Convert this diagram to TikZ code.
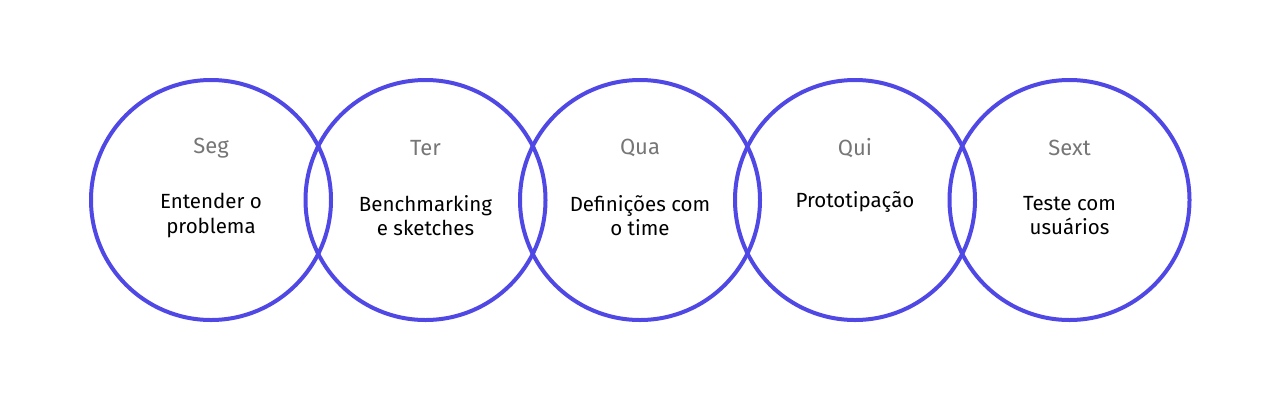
\documentclass[tikz,border=0pt]{standalone}
\usepackage{fontspec}
\setmainfont{Fira Sans}
\definecolor{ring}{HTML}{5048E5}
\definecolor{daygray}{HTML}{767676}
\begin{document}
\begin{tikzpicture}[x=1pt,y=-1pt,
  ring/.style={circle,draw=ring,line width=4pt,minimum size=240pt,inner sep=0pt},
  day/.style={text=daygray,font=\fontsize{22}{26}\selectfont,anchor=center},
  task/.style={text=black,font=\fontsize{20.5}{24.5}\selectfont,align=center,anchor=center}]
\useasboundingbox (0,0) rectangle (1280,400);
\foreach \i/\x/\d/\t in {1/211/Seg/{Entender o\\problema},
                         2/425.5/Ter/{Benchmarking\\e sketches},
                         3/640/Qua/{Definições com\\o time},
                         4/855/Qui/{Prototipação\\\strut},
                         5/1069.5/Sext/{Teste com\\usuários}}{
  \node[ring] (c\i) at (\x,200) {};
  \node[day] (d\i) at (\x,148) {\d};
  \node[task] (t\i) at (\x,215.5) {\t};
}
\end{tikzpicture}
\end{document}
